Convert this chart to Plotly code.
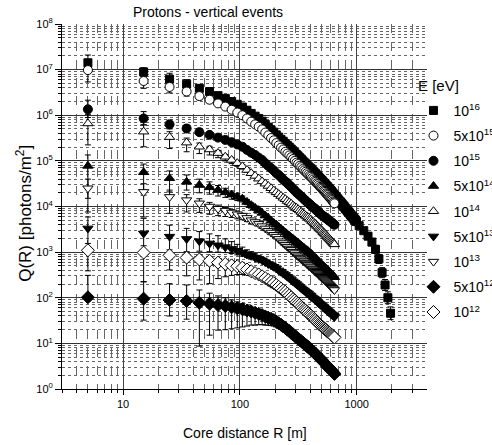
import plotly.graph_objects as go

# ---------------- data ----------------
R = [5, 15, 25, 35, 45, 55, 65, 75, 85, 95, 105, 115, 125, 135, 145, 155, 165, 175, 185, 195,
     205, 215, 225, 235, 245, 255, 265, 275, 285, 295, 305, 315, 325, 335, 345, 355, 365, 375, 385, 395,
     405, 415, 425, 435, 445, 455, 465, 475, 485, 495, 505, 515, 525, 535, 545, 555, 565, 575, 585, 595,
     605, 615, 625, 635, 645]
R_ext_1e16 = [655, 665, 675, 685, 695, 705, 715, 725, 735, 745, 755, 765, 775, 785, 795, 805, 815, 825,
              835, 845, 855, 865, 875, 885, 895, 905, 915, 925, 935, 945, 955, 965, 975, 985, 995,
              1050, 1150, 1250, 1350, 1450, 1550, 1650, 1750, 1850, 1950]

# log10 Q(R) [photons/m^2]
logQ_1e16 = [7.15, 6.95, 6.79, 6.68, 6.59, 6.52, 6.43, 6.37, 6.30, 6.24, 6.18, 6.11, 6.04, 5.98, 5.93,
             5.87, 5.80, 5.74, 5.68, 5.63, 5.57, 5.52, 5.47, 5.43, 5.38, 5.34, 5.30, 5.26, 5.22, 5.18,
             5.14, 5.11, 5.07, 5.04, 5.00, 4.97, 4.94, 4.91, 4.88, 4.85, 4.83, 4.80, 4.77, 4.74, 4.72,
             4.69, 4.67, 4.64, 4.61, 4.59, 4.57, 4.54, 4.52, 4.50, 4.47, 4.45, 4.43, 4.40, 4.38, 4.36,
             4.34, 4.32, 4.29, 4.27, 4.25,
             4.23, 4.21, 4.19, 4.17, 4.15, 4.13, 4.11, 4.10, 4.08, 4.06, 4.04, 4.02, 4.01, 3.99, 3.97,
             3.95, 3.94, 3.92, 3.90, 3.89, 3.87, 3.86, 3.84, 3.82, 3.81, 3.79, 3.78, 3.77, 3.75, 3.74,
             3.72, 3.71, 3.70, 3.68, 3.67,
             3.58, 3.47, 3.35, 3.22, 3.06, 2.85, 2.55, 2.28, 2.00, 1.66]
logQ_5e15 = [6.99, 6.75, 6.62, 6.52, 6.42, 6.34, 6.26, 6.19, 6.12, 6.06, 6.00, 5.93, 5.86, 5.80, 5.75,
             5.69, 5.62, 5.56, 5.50, 5.45, 5.39, 5.34, 5.29, 5.25, 5.20, 5.16, 5.12, 5.08, 5.04, 5.00,
             4.96, 4.93, 4.89, 4.86, 4.82, 4.79, 4.76, 4.73, 4.70, 4.67, 4.65, 4.62, 4.59, 4.56, 4.54,
             4.51, 4.49, 4.46, 4.43, 4.41, 4.39, 4.36, 4.34, 4.32, 4.29, 4.27, 4.25, 4.22, 4.20, 4.18,
             4.16, 4.14, 4.11, 4.09, 4.07]
logQ_1e15 = [6.13, 5.93, 5.80, 5.71, 5.63, 5.57, 5.51, 5.46, 5.41, 5.36, 5.31, 5.24, 5.18, 5.13, 5.07,
             5.02, 4.95, 4.89, 4.84, 4.79, 4.73, 4.69, 4.64, 4.59, 4.55, 4.51, 4.47, 4.43, 4.39, 4.35,
             4.31, 4.28, 4.25, 4.22, 4.19, 4.16, 4.13, 4.10, 4.08, 4.05, 4.03, 4.00, 3.98, 3.96, 3.94,
             3.91, 3.89, 3.87, 3.85, 3.83, 3.81, 3.79, 3.78, 3.76, 3.75, 3.73, 3.72, 3.70, 3.69, 3.67,
             3.66, 3.64, 3.63, 3.61, 3.60]
logQ_5e14 = [4.89, 4.75, 4.62, 4.54, 4.47, 4.42, 4.36, 4.31, 4.26, 4.21, 4.17, 4.10, 4.03, 3.97, 3.92,
             3.86, 3.80, 3.75, 3.69, 3.64, 3.60, 3.55, 3.51, 3.47, 3.43, 3.39, 3.36, 3.32, 3.29, 3.26,
             3.23, 3.20, 3.17, 3.14, 3.11, 3.09, 3.06, 3.04, 3.02, 2.99, 2.97, 2.94, 2.91, 2.89, 2.86,
             2.84, 2.81, 2.79, 2.76, 2.74, 2.72, 2.70, 2.68, 2.66, 2.64, 2.62, 2.60, 2.58, 2.56, 2.54,
             2.52, 2.50, 2.49, 2.47, 2.45]
logQ_1e14 = [5.82, 5.64, 5.52, 5.40, 5.31, 5.25, 5.17, 5.09, 5.02, 4.95, 4.88, 4.80, 4.73, 4.67, 4.61,
             4.55, 4.50, 4.45, 4.40, 4.35, 4.31, 4.27, 4.23, 4.19, 4.16, 4.12, 4.09, 4.06, 4.02, 3.99,
             3.97, 3.94, 3.91, 3.88, 3.85, 3.83, 3.80, 3.78, 3.76, 3.73, 3.71, 3.68, 3.66, 3.63, 3.61,
             3.58, 3.56, 3.53, 3.51, 3.49, 3.47, 3.44, 3.42, 3.40, 3.38, 3.35, 3.33, 3.31, 3.29, 3.27,
             3.25, 3.23, 3.21, 3.19, 3.17]
logQ_5e13 = [3.52, 3.41, 3.34, 3.29, 3.24, 3.19, 3.15, 3.11, 3.07, 3.03, 2.99, 2.95, 2.92, 2.88, 2.85,
             2.82, 2.78, 2.74, 2.71, 2.68, 2.64, 2.60, 2.57, 2.53, 2.50, 2.46, 2.43, 2.39, 2.36, 2.33,
             2.30, 2.27, 2.24, 2.21, 2.18, 2.16, 2.13, 2.11, 2.09, 2.06, 2.04, 2.01, 1.99, 1.97, 1.95,
             1.92, 1.90, 1.88, 1.86, 1.84, 1.82, 1.80, 1.78, 1.76, 1.75, 1.73, 1.71, 1.69, 1.68, 1.66,
             1.64, 1.63, 1.61, 1.60, 1.58]
logQ_1e13 = [4.40, 4.32, 4.21, 4.14, 4.07, 4.00, 3.95, 3.91, 3.87, 3.83, 3.80, 3.75, 3.70, 3.66, 3.62,
             3.57, 3.52, 3.47, 3.43, 3.38, 3.34, 3.29, 3.24, 3.20, 3.16, 3.12, 3.08, 3.05, 3.01, 2.98,
             2.94, 2.91, 2.88, 2.85, 2.82, 2.80, 2.77, 2.74, 2.72, 2.69, 2.67, 2.64, 2.62, 2.59, 2.57,
             2.55, 2.53, 2.50, 2.48, 2.46, 2.44, 2.42, 2.40, 2.38, 2.36, 2.34, 2.32, 2.30, 2.28, 2.26,
             2.24, 2.22, 2.21, 2.19, 2.17]
logQ_5e12 = [2.01, 1.98, 1.95, 1.93, 1.89, 1.87, 1.84, 1.82, 1.79, 1.77, 1.75, 1.72, 1.70, 1.67, 1.65,
             1.62, 1.59, 1.56, 1.54, 1.51, 1.48, 1.44, 1.41, 1.37, 1.34, 1.30, 1.27, 1.23, 1.20, 1.17,
             1.13, 1.10, 1.07, 1.05, 1.02, 0.99, 0.97, 0.94, 0.92, 0.89, 0.87, 0.84, 0.82, 0.79, 0.77,
             0.74, 0.72, 0.69, 0.67, 0.65, 0.63, 0.60, 0.58, 0.56, 0.54, 0.51, 0.49, 0.47, 0.45, 0.43,
             0.41, 0.39, 0.37, 0.35, 0.33]
logQ_1e12 = [3.04, 2.99, 2.93, 2.88, 2.84, 2.81, 2.77, 2.74, 2.71, 2.69, 2.66, 2.62, 2.58, 2.54, 2.51,
             2.47, 2.43, 2.39, 2.35, 2.32, 2.28, 2.24, 2.20, 2.16, 2.13, 2.09, 2.05, 2.01, 1.97, 1.94,
             1.90, 1.87, 1.84, 1.80, 1.77, 1.74, 1.72, 1.69, 1.66, 1.63, 1.61, 1.58, 1.56, 1.53, 1.51,
             1.48, 1.46, 1.43, 1.41, 1.39, 1.37, 1.35, 1.33, 1.31, 1.30, 1.28, 1.26, 1.24, 1.23, 1.21,
             1.19, 1.18, 1.16, 1.15, 1.13]

# error bars in decades (upper / lower) for the innermost points; the rest use the tail value
err_up_1e16 = [0.17, 0.09, 0.13, 0.10, 0.08, 0.07, 0.06, 0.05, 0.05, 0.04, 0.04, 0.04]
err_dn_1e16 = [0.12, 0.10, 0.10, 0.08, 0.07, 0.06, 0.05, 0.05, 0.04, 0.04, 0.04]
err_far_1e16 = [0.05, 0.06, 0.07, 0.08, 0.09, 0.10, 0.11, 0.12, 0.13, 0.14]
err_up_5e15 = [0.12, 0.10, 0.08, 0.07, 0.06, 0.05, 0.05, 0.04]
err_dn_5e15 = [0.26, 0.16, 0.13, 0.10, 0.08, 0.07, 0.06, 0.05, 0.05, 0.04, 0.04]
err_up_1e15 = [0.20, 0.15, 0.09, 0.08, 0.07, 0.06, 0.05, 0.05, 0.04, 0.04]
err_dn_1e15 = [0.18, 0.14, 0.10, 0.08, 0.07, 0.06, 0.05, 0.05, 0.04, 0.04]
err_up_5e14 = [0.24, 0.18, 0.16, 0.15, 0.13, 0.12, 0.10, 0.09, 0.08, 0.07, 0.06, 0.05, 0.05, 0.04, 0.04]
err_dn_5e14 = [0.71, 0.50, 0.30, 0.18, 0.17, 0.15, 0.13, 0.11, 0.10, 0.08, 0.07, 0.06, 0.05, 0.05, 0.04, 0.04]
err_up_1e14 = [0.20, 0.15, 0.12, 0.10, 0.08, 0.07, 0.06, 0.05, 0.05, 0.04, 0.04]
err_dn_1e14 = [0.47, 0.33, 0.25, 0.20, 0.15, 0.12, 0.10, 0.09, 0.08, 0.07, 0.06, 0.05, 0.05, 0.04, 0.04]
err_up_5e13 = [0.25, 0.33, 0.25, 0.23, 0.21, 0.21, 0.21, 0.18, 0.16, 0.14, 0.12, 0.10, 0.09, 0.08,
               0.07, 0.06, 0.05, 0.05, 0.04, 0.04]
err_dn_5e13 = [0.40, 0.45, 0.35, 0.28, 0.22, 0.18, 0.15, 0.12, 0.10, 0.09, 0.08, 0.07, 0.06, 0.05,
               0.05, 0.04, 0.04]
err_up_1e13 = [0.20, 0.18, 0.15, 0.12, 0.10, 0.09, 0.08, 0.07, 0.06, 0.05, 0.05, 0.04, 0.04]
err_dn_1e13 = [0.52, 0.55, 0.36, 0.26, 0.20, 0.17, 0.15, 0.13, 0.11, 0.10, 0.09, 0.08, 0.07, 0.06,
               0.05, 0.05, 0.04, 0.04]
err_up_5e12 = [0.48, 0.37, 0.36, 0.35, 0.28, 0.23, 0.20, 0.18, 0.16, 0.14, 0.12, 0.10, 0.09, 0.08,
               0.07, 0.06, 0.05, 0.05, 0.04, 0.04]
err_dn_5e12 = [0.0, 0.47, 0.35, 0.40, 0.95, 0.69, 0.55, 0.52, 0.47, 0.43, 0.39, 0.34, 0.30, 0.27,
               0.24, 0.21, 0.19, 0.16, 0.15, 0.13, 0.12, 0.11, 0.10, 0.09, 0.08, 0.07, 0.06, 0.05,
               0.05, 0.04]
err_up_1e12 = [0.15, 0.15, 0.12, 0.10, 0.09, 0.08, 0.07, 0.06, 0.05, 0.05, 0.04, 0.04]
err_dn_1e12 = [0.45, 0.64, 0.32, 0.40, 0.45, 0.50, 0.35, 0.28, 0.22, 0.18, 0.15, 0.12, 0.10, 0.08,
               0.07, 0.06, 0.05, 0.05, 0.04, 0.04]
err_tail = 0.03

legend_labels = ["10<sup>16</sup>", "5x10<sup>15</sup>", "10<sup>15</sup>", "5x10<sup>14</sup>",
                 "10<sup>14</sup>", "5x10<sup>13</sup>", "10<sup>13</sup>", "5x10<sup>12</sup>",
                 "10<sup>12</sup>"]
y_tick_vals = [1, 10, 100, 1e3, 1e4, 1e5, 1e6, 1e7, 1e8]
y_tick_text = ["10<sup>%d</sup>" % k for k in range(9)]
x_tick_vals = [10, 100, 1000]
x_tick_text = ["10", "100", "1000"]

# ---------------- figure ----------------
FONT = "Liberation Sans, Arial, sans-serif"


def pad(head, n, tail=err_tail):
    return list(head) + [tail] * (n - len(head))


series = [
    # label, x, logQ, up, dn, symbol, fill, size
    (legend_labels[0], R + R_ext_1e16, logQ_1e16,
     pad(err_up_1e16, len(R) + 35) + err_far_1e16, pad(err_dn_1e16, len(R) + 35) + err_far_1e16,
     "square", "black", 8),
    (legend_labels[1], R, logQ_5e15, pad(err_up_5e15, len(R)), pad(err_dn_5e15, len(R)), "circle", "white", 9),
    (legend_labels[2], R, logQ_1e15, pad(err_up_1e15, len(R)), pad(err_dn_1e15, len(R)), "circle", "black", 9),
    (legend_labels[3], R, logQ_5e14, pad(err_up_5e14, len(R)), pad(err_dn_5e14, len(R)), "triangle-up", "black", 9),
    (legend_labels[4], R, logQ_1e14, pad(err_up_1e14, len(R)), pad(err_dn_1e14, len(R)), "triangle-up", "white", 9),
    (legend_labels[5], R, logQ_5e13, pad(err_up_5e13, len(R)), pad(err_dn_5e13, len(R)), "triangle-down", "black", 9),
    (legend_labels[6], R, logQ_1e13, pad(err_up_1e13, len(R)), pad(err_dn_1e13, len(R)), "triangle-down", "white", 9),
    (legend_labels[7], R, logQ_5e12, pad(err_up_5e12, len(R)), pad(err_dn_5e12, len(R)), "diamond", "black", 10),
    (legend_labels[8], R, logQ_1e12, pad(err_up_1e12, len(R)), pad(err_dn_1e12, len(R)), "diamond", "white", 10),
]

fig = go.Figure()
for i, (label, xs, lq, up, dn, sym, fill, size) in enumerate(series):
    q = [10 ** v for v in lq]
    plus = [qq * (10 ** u - 1) for qq, u in zip(q, up)]
    minus = [qq * (1 - 10 ** (-d)) for qq, d in zip(q, dn)]
    fig.add_trace(go.Scatter(
        x=xs, y=q, mode="markers", name=label, legendgroup="g%d" % i,
        marker=dict(symbol=sym, size=size, color=fill, line=dict(color="black", width=1)),
        error_y=dict(type="data", symmetric=False, array=plus, arrayminus=minus,
                     color="black", thickness=1, width=3),
    ))

x_minor = [3, 4, 5, 6, 7, 8, 9, 20, 30, 40, 50, 60, 70, 80, 90,
           200, 300, 400, 500, 600, 700, 800, 900, 2000, 3000]
y_minor = [m * 10 ** k for k in range(8) for m in range(2, 10)]

fig.update_layout(
    width=492, height=445,
    margin=dict(l=62, r=65, t=24, b=56, autoexpand=False),
    plot_bgcolor="white", paper_bgcolor="white",
    title=dict(text="Protons - vertical events", x=208 / 492, xanchor="center",
               y=1 - 12 / 445, yanchor="middle", font=dict(family=FONT, size=14, color="black")),
    showlegend=True,
    legend=dict(x=0.963, y=0.806, xanchor="left", yanchor="top", tracegroupgap=4,
                bgcolor="rgba(0,0,0,0)", font=dict(family=FONT, size=14, color="black")),
    xaxis=dict(type="log", range=[0.4771, 3.602],
               tickmode="array", tickvals=x_tick_vals, ticktext=x_tick_text,
               ticks="outside", ticklen=5, tickcolor="black",
               tickfont=dict(family=FONT, size=11, color="black"),
               showline=True, linecolor="black", linewidth=1,
               showgrid=True, gridcolor="#444", gridwidth=1, zeroline=False,
               minor=dict(tickmode="array", tickvals=x_minor, ticks="outside", ticklen=3,
                          tickcolor="black", showgrid=True, gridcolor="#666", griddash="dash",
                          gridwidth=1)),
    yaxis=dict(type="log", range=[0, 8],
               tickmode="array", tickvals=y_tick_vals, ticktext=y_tick_text,
               ticks="outside", ticklen=6, tickcolor="black",
               tickfont=dict(family=FONT, size=11, color="black"),
               showline=True, linecolor="black", linewidth=1,
               showgrid=True, gridcolor="#333", gridwidth=1, zeroline=False,
               minor=dict(tickmode="array", tickvals=y_minor, ticks="outside", ticklen=3,
                          tickcolor="black", showgrid=True, gridcolor="#666", griddash="dot",
                          gridwidth=1)),
    annotations=[
        dict(text="Core distance R [m]", xref="paper", yref="paper", x=0.5, y=-44 / 365,
             xanchor="center", yanchor="middle", showarrow=False,
             font=dict(family=FONT, size=14, color="black")),
        dict(text="Q(R) [photons/m<sup>2</sup>]", xref="paper", yref="paper", x=-38 / 365, y=0.48,
             xanchor="center", yanchor="middle", textangle=-90, showarrow=False,
             font=dict(family=FONT, size=17, color="black")),
        dict(text="E [eV]", xref="paper", yref="paper", x=(416 - 62) / 365, y=(389 - 86) / 365,
             xanchor="left", yanchor="middle", showarrow=False, bgcolor="rgba(255,255,255,0)",
             font=dict(family=FONT, size=15, color="#000000")),
    ],
)

fig.write_html("out.html", config={"displayModeBar": False},
               post_script="document.body.style.margin='0';")
